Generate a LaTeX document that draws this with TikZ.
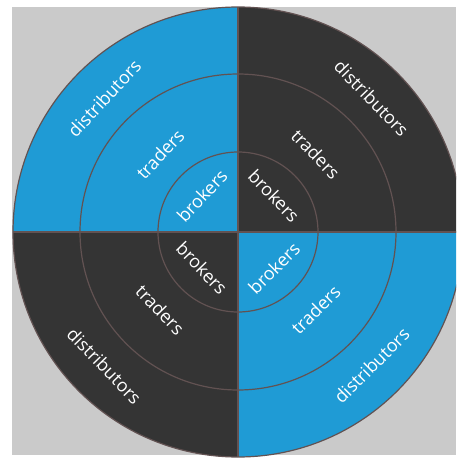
\documentclass[tikz,border=0pt]{standalone}
\usepackage{fontspec}
\setmainfont{Open Sans}
\definecolor{ringblue}{RGB}{31,155,213}
\definecolor{ringdark}{RGB}{52,52,52}
\definecolor{bggray}{RGB}{202,202,202}
\definecolor{ringline}{RGB}{98,82,82}
\begin{document}
\begin{tikzpicture}[x=1pt, y=1pt,
	lbl/.style={text=white, font=\fontsize{18}{18}\selectfont, inner sep=0pt},
	ring/.style={ringline, line width=1.2pt}]
	\useasboundingbox (-238,-226) rectangle (218,232);
	\clip (-238,-226) rectangle (218,232);
	\fill[white] (-238,-226) rectangle (218,232);
	\fill[bggray] (-226,-223) rectangle (218,225);
	
	%quadrants
	\fill[ringblue] (0,0) -- (90:225) arc (90:180:225) -- cycle;
	\fill[ringdark] (0,0) -- (0:225) arc (0:90:225) -- cycle;
	\fill[ringdark] (0,0) -- (180:225) arc (180:270:225) -- cycle;
	\fill[ringblue] (0,0) -- (270:225) arc (270:360:225) -- cycle;
	
	%rings and cross
	\foreach \r in {80, 158, 225}{
		\draw[ring] (0,0) circle (\r);
	}
	\draw[ring] (-225,0) -- (225,0);
	\draw[ring] (0,-225) -- (0,225);
	
	%labels
	\foreach \a/\rot/\q in {45/-46/ne, 135/47/nw, 225/-46/sw, 315/45/se}{
		\node[lbl, rotate=\rot] (brokers-\q) at (\a:51) {brokers};
		\node[lbl, rotate=\rot] (traders-\q) at (\a:110) {traders};
		\node[lbl, rotate=\rot] (distributors-\q) at (\a:189) {distributors};
	}
\end{tikzpicture}
\end{document}
